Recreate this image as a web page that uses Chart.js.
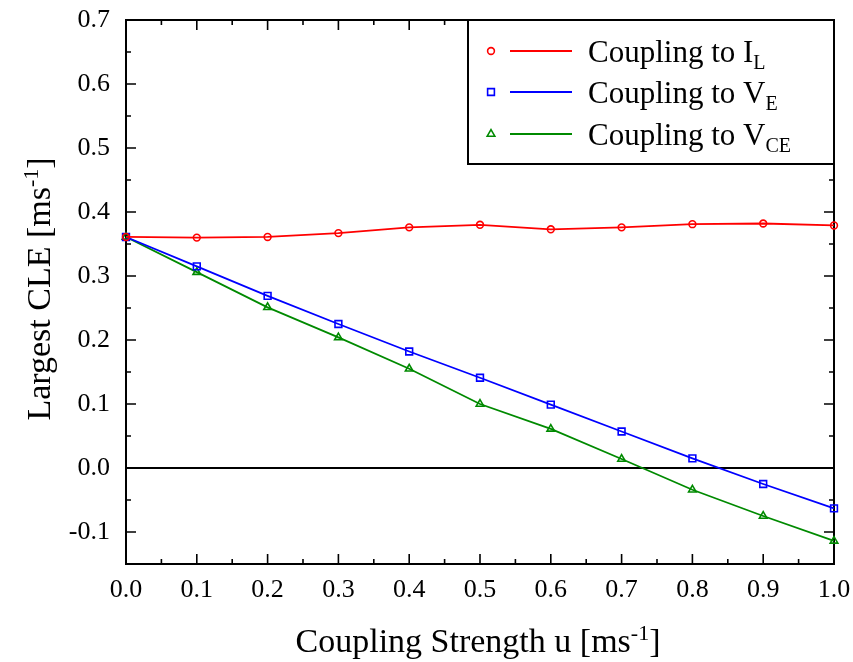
<!DOCTYPE html>
<html>
<head>
<meta charset="utf-8">
<script src="https://cdn.jsdelivr.net/npm/chart.js@4/dist/chart.umd.min.js"></script>
<style>
  body { margin: 0; background: #fff; }
  #wrap { width: 853px; height: 662px; position: relative; }
</style>
</head>
<body>
<div id="wrap"><canvas id="myChart"></canvas></div>
<script>
// coupling strength u and the largest conditional Lyapunov exponent for each coupling variable
const couplingU = [0.0, 0.1, 0.2, 0.3, 0.4, 0.5, 0.6, 0.7, 0.8, 0.9, 1.0];
const cleIL  = [0.361, 0.360, 0.361, 0.367, 0.376, 0.380, 0.373, 0.376, 0.381, 0.382, 0.379];
const cleVE  = [0.361, 0.315, 0.269, 0.225, 0.182, 0.141, 0.099, 0.057, 0.015, -0.025, -0.063];
const cleVCE = [0.361, 0.306, 0.251, 0.204, 0.155, 0.100, 0.061, 0.014, -0.034, -0.075, -0.114];

const xTicks = [0.0, 0.1, 0.2, 0.3, 0.4, 0.5, 0.6, 0.7, 0.8, 0.9, 1.0];
const xTickLabels = ['0.0', '0.1', '0.2', '0.3', '0.4', '0.5', '0.6', '0.7', '0.8', '0.9', '1.0'];
const yTicks = [-0.1, 0.0, 0.1, 0.2, 0.3, 0.4, 0.5, 0.6, 0.7];
const yTickLabels = ['-0.1', '0.0', '0.1', '0.2', '0.3', '0.4', '0.5', '0.6', '0.7'];

const legendMain = ['Coupling to I', 'Coupling to V', 'Coupling to V'];
const legendSub = ['L', 'E', 'CE'];

const FONT = '"Liberation Serif", "Times New Roman", serif';

function points(ys) {
    return couplingU.map((u, i) => ({x: u, y: ys[i]}));
}

function series(label, ys, color, style, radius) {
    return {
        label: label,
        data: points(ys),
        borderColor: color,
        backgroundColor: color,
        borderWidth: 1.8,
        pointStyle: style,
        pointRadius: radius,
        pointBorderWidth: 1.6,
        pointBackgroundColor: 'rgba(0,0,0,0)',
        pointBorderColor: color,
        tension: 0,
        clip: false
    };
}

// text with a raised or lowered tail, e.g. ms^-1 or V_CE
function drawScripted(ctx, x, y, main, small, after, shift, size, smallSize) {
    ctx.font = size + 'px ' + FONT;
    ctx.fillText(main, x, y);
    x += ctx.measureText(main).width;
    ctx.font = smallSize + 'px ' + FONT;
    ctx.fillText(small, x, y + shift);
    x += ctx.measureText(small).width;
    if (after) {
        ctx.font = size + 'px ' + FONT;
        ctx.fillText(after, x, y);
    }
}

function scriptedWidth(ctx, main, small, after, size, smallSize) {
    ctx.font = size + 'px ' + FONT;
    let w = ctx.measureText(main).width + (after ? ctx.measureText(after).width : 0);
    ctx.font = smallSize + 'px ' + FONT;
    return w + ctx.measureText(small).width;
}

const framePlugin = {
    id: 'frame',
    beforeDatasetsDraw(chart) {
        const ctx = chart.ctx;
        const a = chart.chartArea;
        const xs = chart.scales.x, ys = chart.scales.y;
        ctx.save();
        ctx.strokeStyle = '#000';
        ctx.lineWidth = 1.6;
        ctx.beginPath();
        // inward ticks, major every 0.1 and minor in between
        for (let i = 0; i <= 20; i++) {
            const v = i * 0.05;
            const len = i % 2 === 0 ? 10 : 5;
            const px = xs.getPixelForValue(v);
            ctx.moveTo(px, a.bottom); ctx.lineTo(px, a.bottom - len);
            ctx.moveTo(px, a.top); ctx.lineTo(px, a.top + len);
        }
        for (let i = -3; i <= 14; i++) {
            const v = i * 0.05;
            const len = i % 2 === 0 ? 10 : 5;
            const py = ys.getPixelForValue(v);
            ctx.moveTo(a.left, py); ctx.lineTo(a.left + len, py);
            ctx.moveTo(a.right, py); ctx.lineTo(a.right - len, py);
        }
        ctx.stroke();
        // zero line
        const y0 = ys.getPixelForValue(0);
        ctx.lineWidth = 2;
        ctx.beginPath();
        ctx.moveTo(a.left, y0); ctx.lineTo(a.right, y0);
        ctx.stroke();
        ctx.strokeRect(a.left, a.top, a.right - a.left, a.bottom - a.top);

        // axis titles
        ctx.fillStyle = '#000';
        ctx.textAlign = 'left';
        ctx.textBaseline = 'alphabetic';
        const tw = scriptedWidth(ctx, 'Coupling Strength u [ms', '-1', ']', 34, 22);
        drawScripted(ctx, 478 - tw / 2, 652, 'Coupling Strength u [ms', '-1', ']', -12, 34, 22);
        ctx.translate(50, 289);
        ctx.rotate(-Math.PI / 2);
        const yw = scriptedWidth(ctx, 'Largest CLE [ms', '-1', ']', 34, 22);
        drawScripted(ctx, -yw / 2, 0, 'Largest CLE [ms', '-1', ']', -12, 34, 22);
        ctx.restore();
    },
    afterDraw(chart) {
        const ctx = chart.ctx;
        const a = chart.chartArea;
        const left = 468, top = a.top, right = a.right, bottom = 164;
        ctx.save();
        ctx.fillStyle = '#fff';
        ctx.fillRect(left, top, right - left, bottom - top);
        ctx.strokeStyle = '#000';
        ctx.lineWidth = 2;
        ctx.strokeRect(left, top, right - left, bottom - top);
        const rows = [51, 92, 134];
        chart.data.datasets.forEach((ds, i) => {
            const y = rows[i];
            ctx.strokeStyle = ds.borderColor;
            ctx.fillStyle = 'rgba(0,0,0,0)';
            ctx.lineWidth = 1.6;
            Chart.helpers.drawPoint(ctx, {pointStyle: ds.pointStyle, radius: ds.pointRadius, borderWidth: 1.6, rotation: 0}, 491, y);
            ctx.lineWidth = 1.8;
            ctx.beginPath();
            ctx.moveTo(510, y); ctx.lineTo(572, y);
            ctx.stroke();
            ctx.fillStyle = '#000';
            ctx.textAlign = 'left';
            ctx.textBaseline = 'alphabetic';
            drawScripted(ctx, 588, y + 11, legendMain[i], legendSub[i], '', 7, 31, 20);
        });
        ctx.restore();
    }
};

const ctx = document.getElementById('myChart').getContext('2d');
const myChart = new Chart(ctx, {
    type: 'line',
    data: {
        datasets: [
            series('Coupling to I_L', cleIL, '#ff0000', 'circle', 3.4),
            series('Coupling to V_E', cleVE, '#0000ff', 'rect', 4.8),
            series('Coupling to V_CE', cleVCE, '#008a00', 'triangle', 4.4)
        ]
    },
    options: {
        responsive: true,
        maintainAspectRatio: false,
        animation: false,
        layout: {padding: {top: 20, right: 19, left: 0, bottom: 0}},
        plugins: {
            legend: {display: false},
            tooltip: {enabled: false}
        },
        scales: {
            x: {
                type: 'linear',
                min: 0,
                max: 1,
                grid: {display: false, drawTicks: false},
                border: {display: false},
                afterBuildTicks: (scale) => { scale.ticks = xTicks.map(v => ({value: v})); },
                afterFit: (scale) => {
                    scale.height = 98;
                    scale.paddingLeft = 0;
                    scale.paddingRight = 0;
                },
                ticks: {
                    autoSkip: false,
                    maxRotation: 0,
                    padding: 11,
                    color: '#000',
                    font: {family: FONT, size: 26},
                    callback: (v, i) => xTickLabels[i]
                }
            },
            y: {
                min: -0.15,
                max: 0.7,
                grid: {display: false, drawTicks: false},
                border: {display: false},
                afterBuildTicks: (scale) => { scale.ticks = yTicks.map(v => ({value: v})); },
                afterFit: (scale) => {
                    scale.width = 126;
                    scale.paddingTop = 0;
                    scale.paddingBottom = 0;
                },
                ticks: {
                    autoSkip: false,
                    padding: 16,
                    color: '#000',
                    font: {family: FONT, size: 26},
                    callback: (v, i) => yTickLabels[i]
                }
            }
        }
    },
    plugins: [framePlugin]
});
</script>
</body>
</html>
